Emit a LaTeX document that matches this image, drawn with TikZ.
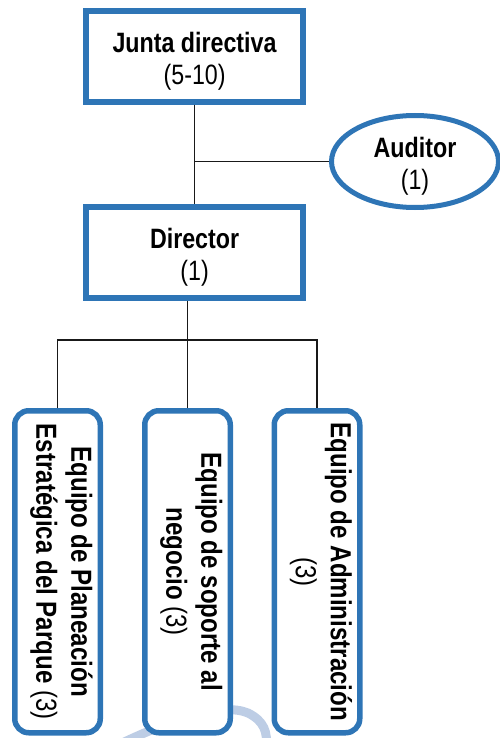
\documentclass[tikz,border=0pt]{standalone}
\usepackage{fontspec}
\setmainfont{Liberation Sans}[FakeStretch=0.83]
\usetikzlibrary{shapes.geometric}
\definecolor{boxblue}{RGB}{46,117,182}
\definecolor{wmblue}{RGB}{189,205,229}
\definecolor{linegray}{RGB}{25,25,25}
\newcommand\strutA{\rule{0pt}{29.4pt}}
\newcommand\strutB{\rule[-14pt]{0pt}{14pt}}
\begin{document}
\begin{tikzpicture}[x=1pt,y=-1pt,
  topbox/.style={rectangle, draw=boxblue, line width=6pt, fill=white,
    minimum width=216.3pt, minimum height=90.5pt, inner sep=0pt,
    align=center, font=\fontsize{28}{32}\selectfont},
  audbox/.style={ellipse, draw=boxblue, line width=5pt, fill=white,
    minimum width=167pt, minimum height=92pt, inner sep=-6pt,
    align=center, font=\fontsize{28}{32}\selectfont},
  teambox/.style={rectangle, draw=boxblue, line width=5.5pt, fill=white,
    rounded corners=14pt, minimum width=322pt, minimum height=85.5pt,
    inner sep=0pt, rotate=-90, align=center,
    font=\bfseries\fontsize{29}{35}\selectfont},
  conn/.style={draw=linegray, line width=1.2pt},
  wm/.style={draw=wmblue, line width=9pt, line cap=round}]
\useasboundingbox (0,0) rectangle (499,738);
\begin{scope}
  \clip (0,0) rectangle (499,738);
  \draw[wm] (118,745) .. controls (170,720) and (222,702) .. (248,713)
            .. controls (264,721) and (268,732) .. (266,748);
\end{scope}

\node[topbox] (junta) at (194.6,56.4) {\strutA\textbf{Junta directiva}\\(5-10)};
\node[topbox] (director) at (194.6,252.5) {\strutA\textbf{Director}\\(1)};
\node[audbox] (auditor) at (415,161.5) {\strutA\textbf{Auditor}\\(1)};

\node[teambox] (box1) at (57.5,571.75)
  {Equipo de Planeación\\Estratégica del Parque {\mdseries(3)}\strutB};
\node[teambox] (box2) at (187.5,571.75)
  {Equipo de soporte al\\negocio {\mdseries(3)}\strutB};
\node[teambox] (box3) at (317,571.75)
  {Equipo de Administración\\{\mdseries(3)}\strutB};

\coordinate (bus) at (0,340);
\draw[conn] (junta.south) -- (director.north);
\draw[conn] (auditor.west) -- (auditor.west -| junta.south);
\draw[conn] (director.south -| box2.west) -- (box2.west);
\draw[conn] (box1.west) -- (box1.west |- bus) -- (box3.west |- bus) -- (box3.west);
\end{tikzpicture}
\end{document}
